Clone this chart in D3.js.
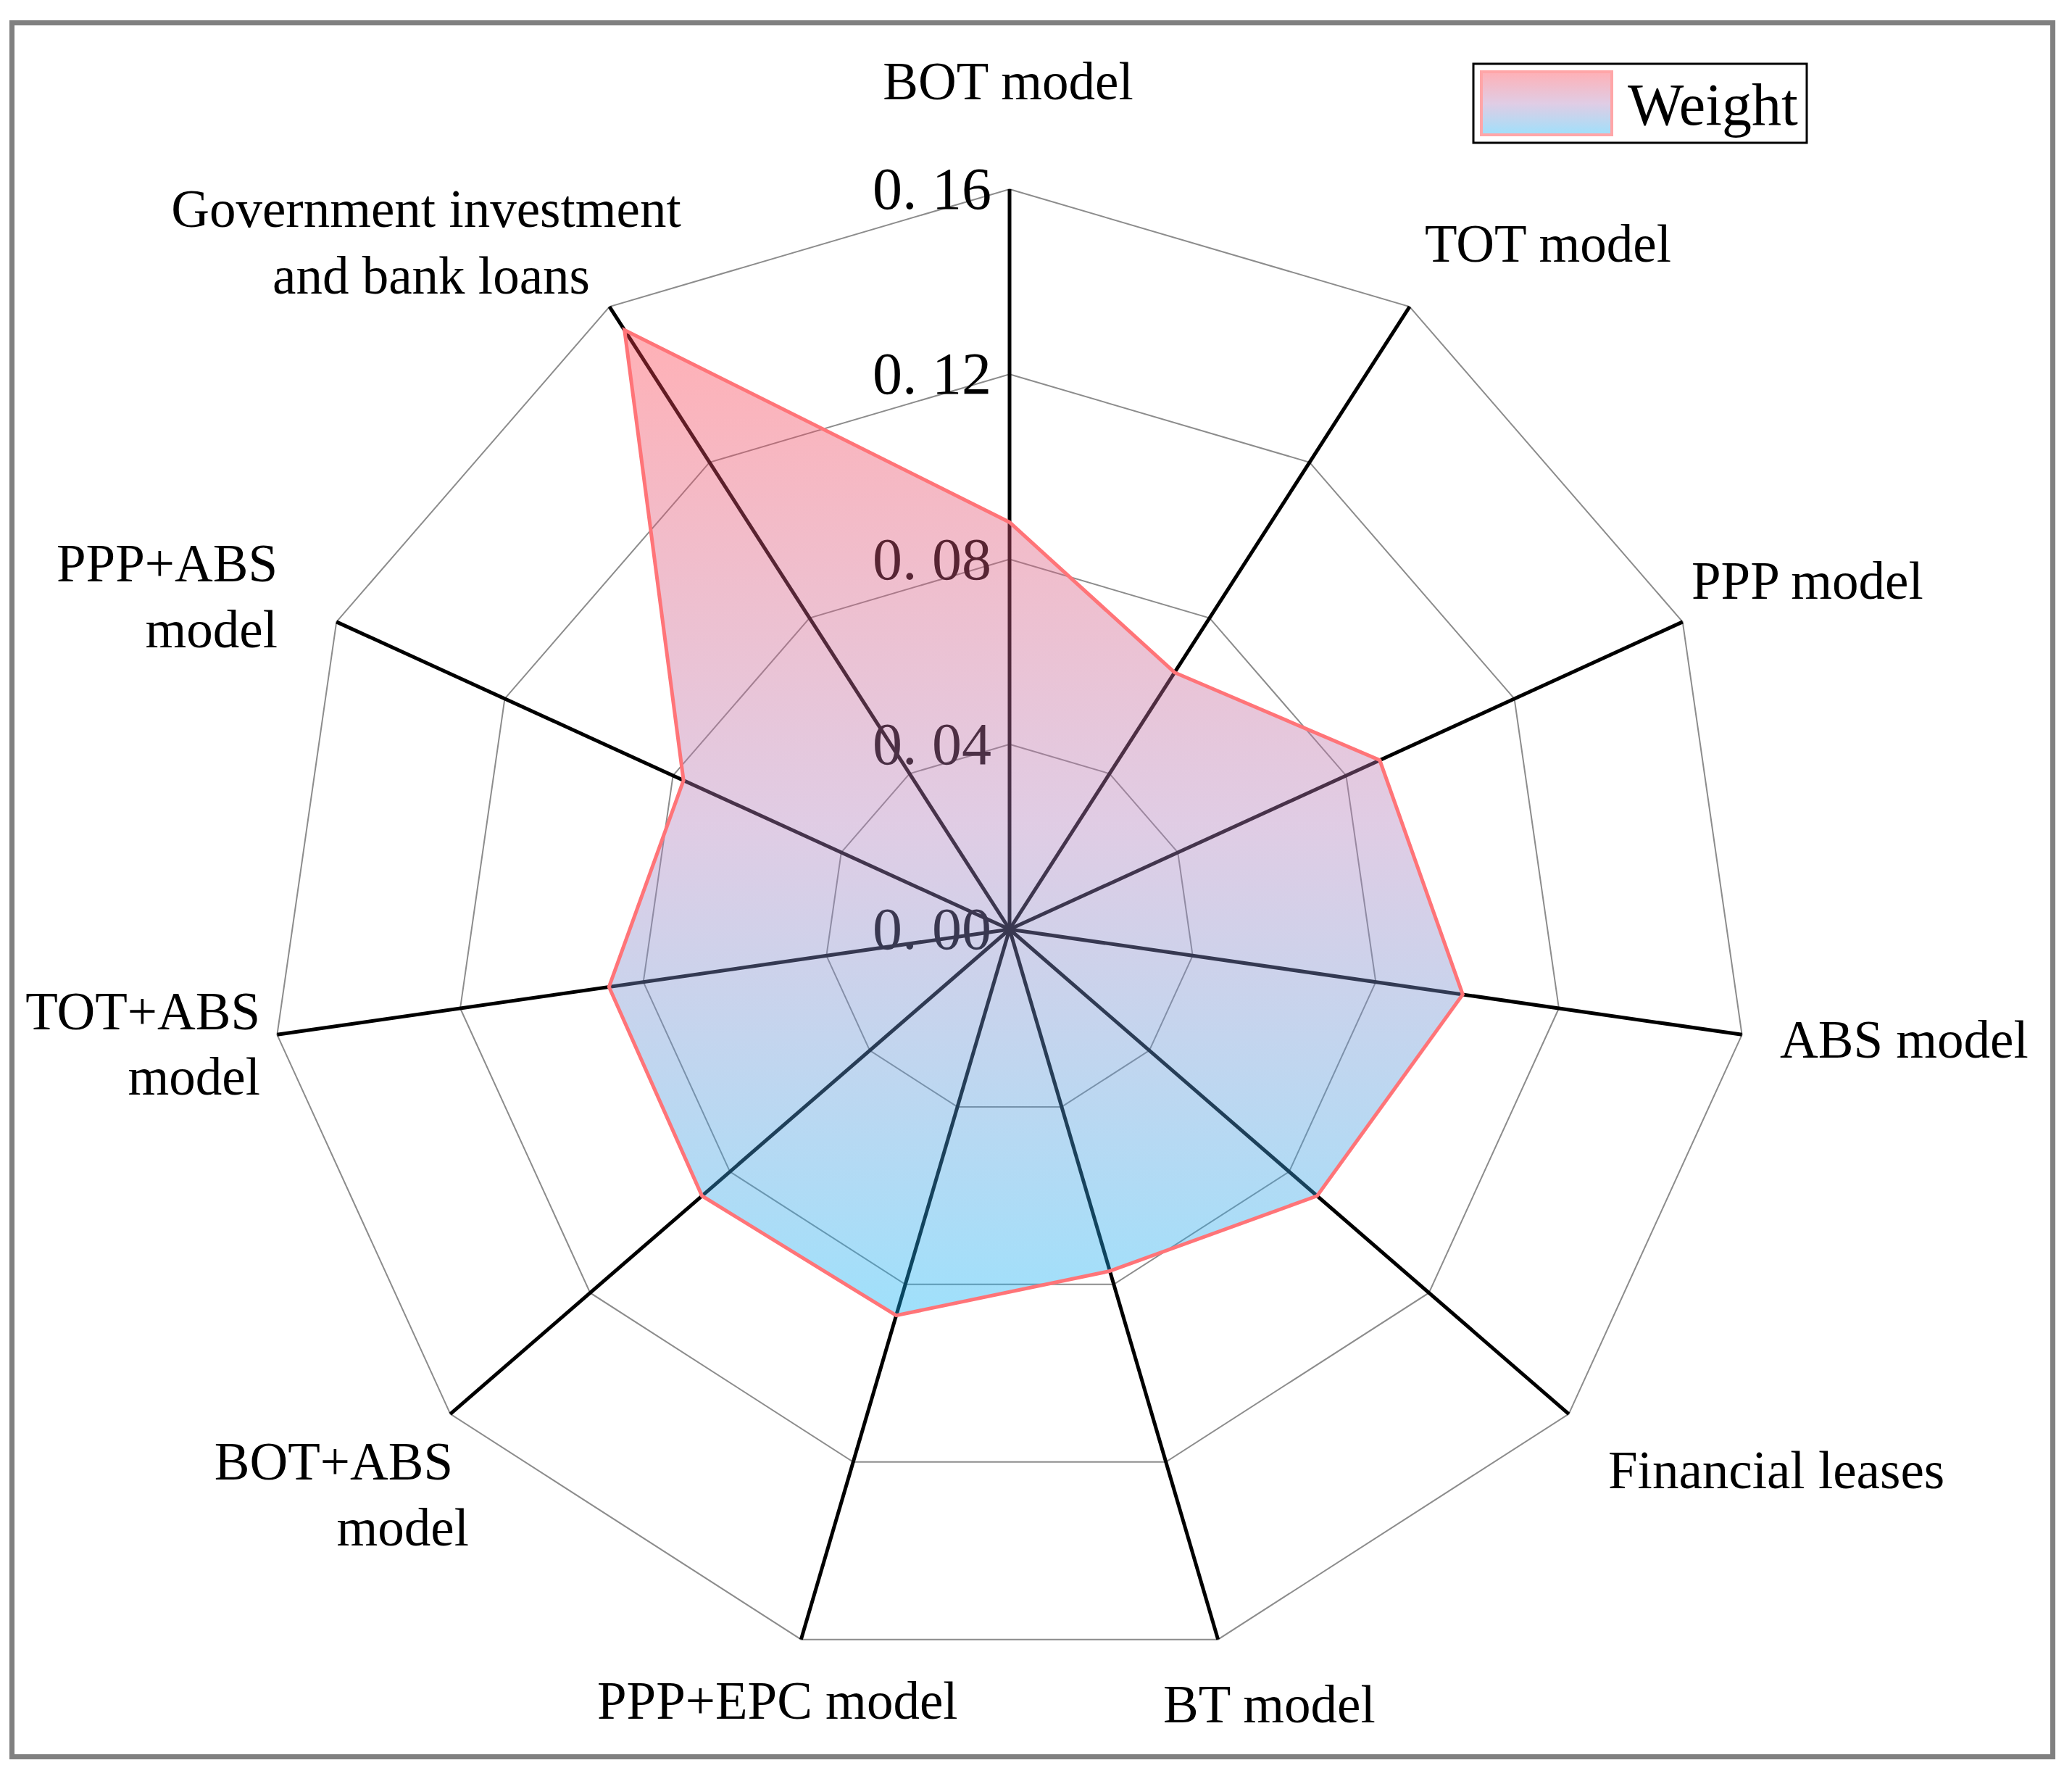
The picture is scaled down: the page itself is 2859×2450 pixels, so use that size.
<!DOCTYPE html>
<html>
<head>
<meta charset="utf-8">
<script src="https://cdn.jsdelivr.net/npm/d3@7/dist/d3.min.js"></script>
<style>
  html, body { margin: 0; padding: 0; background: #fff; }
  svg { display: block; }
  text { font-family: "Liberation Serif", "Times New Roman", serif; fill: #000; }
</style>
</head>
<body>
<svg id="chart" width="2859" height="2450"></svg>
<script>
// ---- data ----
const categories = [
  "BOT model", "TOT model", "PPP model", "ABS model", "Financial leases",
  "BT model", "PPP+EPC model", "BOT+ABS model", "TOT+ABS model",
  "PPP+ABS model", "Government investment and bank loans"
];
const weights = [0.088, 0.066, 0.088, 0.099, 0.088, 0.077, 0.087, 0.088, 0.0875, 0.0775, 0.154];
const tickValues = [0.00, 0.04, 0.08, 0.12, 0.16];
const tickLabels = ["0. 00", "0. 04", "0. 08", "0. 12", "0. 16"];
const seriesName = "Weight";

// label layout (text lines, anchor point, alignment)
const labelLines = [
  ["BOT model"], ["TOT model"], ["PPP model"], ["ABS model"], ["Financial leases"],
  ["BT model"], ["PPP+EPC model"], ["BOT+ABS", "model"], ["TOT+ABS", "model"],
  ["PPP+ABS", "model"], ["Government investment", "and bank loans"]
];
const labelLayout = [
  {x: [1391], y: [137], a: "middle"},
  {x: [1966], y: [361], a: "start"},
  {x: [2334], y: [826], a: "start"},
  {x: [2456], y: [1459], a: "start"},
  {x: [2219], y: [2053], a: "start"},
  {x: [1605], y: [2376], a: "start"},
  {x: [824],  y: [2371], a: "start"},
  {x: [625, 647], y: [2041, 2132], a: "end"},
  {x: [359, 359], y: [1420, 1510], a: "end"},
  {x: [383, 383], y: [802, 893], a: "end"},
  {x: [588, 595], y: [313, 405], a: "middle"}
];

// ---- layout ----
const cx = 1393, cy = 1282, R = 1021;
const svg = d3.select("#chart");

const defs = svg.append("defs");
const grad = defs.append("linearGradient")
  .attr("id", "wgrad").attr("x1", 0).attr("y1", 0).attr("x2", 0).attr("y2", 1);
grad.append("stop").attr("offset", "0%").attr("stop-color", "rgb(255,58,72)");
grad.append("stop").attr("offset", "50%").attr("stop-color", "rgb(178,128,188)");
grad.append("stop").attr("offset", "100%").attr("stop-color", "rgb(15,178,245)");

// outer frame
svg.append("rect")
  .attr("x", 16.5).attr("y", 31.5).attr("width", 2816).attr("height", 2392)
  .attr("fill", "none").attr("stroke", "#808080").attr("stroke-width", 7);

const r = d3.scaleLinear().domain([0, 0.16]).range([0, R]);
const n = categories.length;
const angle = d3.scaleLinear().domain([0, n]).range([0, 2 * Math.PI]);
const px = (i, v) => cx + r(v) * Math.sin(angle(i));
const py = (i, v) => cy - r(v) * Math.cos(angle(i));

const g = svg.append("g");

// grid rings
g.selectAll(".ring").data(tickValues.filter(t => t > 0)).join("path")
  .attr("class", "ring")
  .attr("d", t => d3.line()(d3.range(n).map(i => [px(i, t), py(i, t)])) + "Z")
  .attr("fill", "none").attr("stroke", "#8c8c8c").attr("stroke-width", 2);

// spokes
g.selectAll(".spoke").data(d3.range(n)).join("line")
  .attr("class", "spoke")
  .attr("x1", cx).attr("y1", cy)
  .attr("x2", i => px(i, 0.16)).attr("y2", i => py(i, 0.16))
  .attr("stroke", "#000").attr("stroke-width", 5);

// tick labels
g.selectAll(".tick").data(tickValues).join("text")
  .attr("class", "tick")
  .attr("x", cx - 25)
  .attr("y", t => cy - r(t))
  .attr("dy", "0.33em")
  .attr("text-anchor", "end")
  .attr("font-size", 82)
  .text((t, i) => tickLabels[i]);

// data polygon
const pts = weights.map((w, i) => [px(i, w), py(i, w)]);
g.append("path")
  .attr("d", d3.line()(pts) + "Z")
  .attr("fill", "url(#wgrad)").attr("fill-opacity", 0.4)
  .attr("stroke", "none");
g.append("path")
  .attr("d", d3.line()(pts) + "Z")
  .attr("fill", "none")
  .attr("stroke", "#ff7478").attr("stroke-width", 5).attr("stroke-linejoin", "miter");

// category labels
categories.forEach((c, i) => {
  const L = labelLayout[i];
  labelLines[i].forEach((line, k) => {
    svg.append("text")
      .attr("x", L.x[k]).attr("y", L.y[k])
      .attr("text-anchor", L.a)
      .attr("font-size", 73)
      .text(line);
  });
});

// legend
const lg = svg.append("g");
lg.append("rect")
  .attr("x", 2033).attr("y", 88).attr("width", 460).attr("height", 109)
  .attr("fill", "#fff").attr("stroke", "#000").attr("stroke-width", 3);
lg.append("rect")
  .attr("x", 2044).attr("y", 99).attr("width", 180).attr("height", 87)
  .attr("fill", "url(#wgrad)").attr("fill-opacity", 0.4)
  .attr("stroke", "#ffa6a8").attr("stroke-width", 4);
lg.append("text")
  .attr("x", 2246).attr("y", 172)
  .attr("font-size", 82)
  .text(seriesName);
</script>
</body>
</html>
